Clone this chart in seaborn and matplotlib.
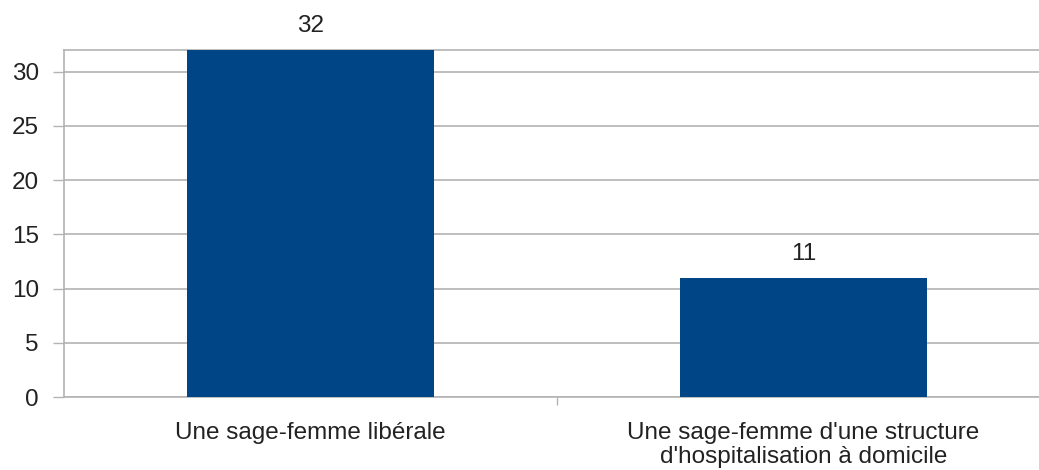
import matplotlib
matplotlib.use("Agg")
import matplotlib.pyplot as plt
import seaborn as sns
import pandas as pd

categories = ["Une sage-femme libérale",
              "Une sage-femme d'une structure\nd'hospitalisation à domicile"]
values = [32, 11]
yticks = [0, 5, 10, 15, 20, 25, 30]

sns.set_theme(style="white")
plt.rcParams['font.family'] = ['Liberation Sans', 'DejaVu Sans']

W, H = 1039, 470
fig = plt.figure(figsize=(W / 100, H / 100), dpi=100)
left, right, top, bottom = 64, 1050, 50, 397
ax = fig.add_axes([left / W, (H - bottom) / H, (right - left) / W, (bottom - top) / H])

df = pd.DataFrame({"cat": categories, "val": values})
sns.barplot(data=df, x="cat", y="val", color="#004586", saturation=1, width=0.5,
            linewidth=0, ax=ax, zorder=3)

ax.set_xlim(-0.5, 1.5)
ax.set_ylim(0, 32)
ax.set_yticks(yticks)
ax.yaxis.grid(True, color="#b3b3b3", linewidth=1.2, zorder=0)
ax.set_axisbelow(True)
ax.set_xlabel("")
ax.set_ylabel("")

for s in ax.spines.values():
    s.set_color("#b3b3b3")
    s.set_linewidth(1.2)

ax.set_xticks([0.5])
ax.set_xticklabels([])
ax.tick_params(axis="x", bottom=True, length=6, color="#b3b3b3", width=1)
ax.tick_params(axis="y", left=True, length=8, color="#b3b3b3", width=1, labelsize=17.5, pad=10, labelcolor="#222222")

for i, c in enumerate(categories):
    ax.annotate(c, (i, 0), xytext=(0, -18), textcoords="offset points",
                ha="center", va="top", fontsize=17.5, color="#222222", linespacing=1.1)

for i, v in enumerate(values):
    ax.annotate(str(v), (i, v), xytext=(0, 13), textcoords="offset points",
                ha="center", va="baseline", fontsize=17.5, color="#222222")

fig.savefig("out.png", dpi=100)
